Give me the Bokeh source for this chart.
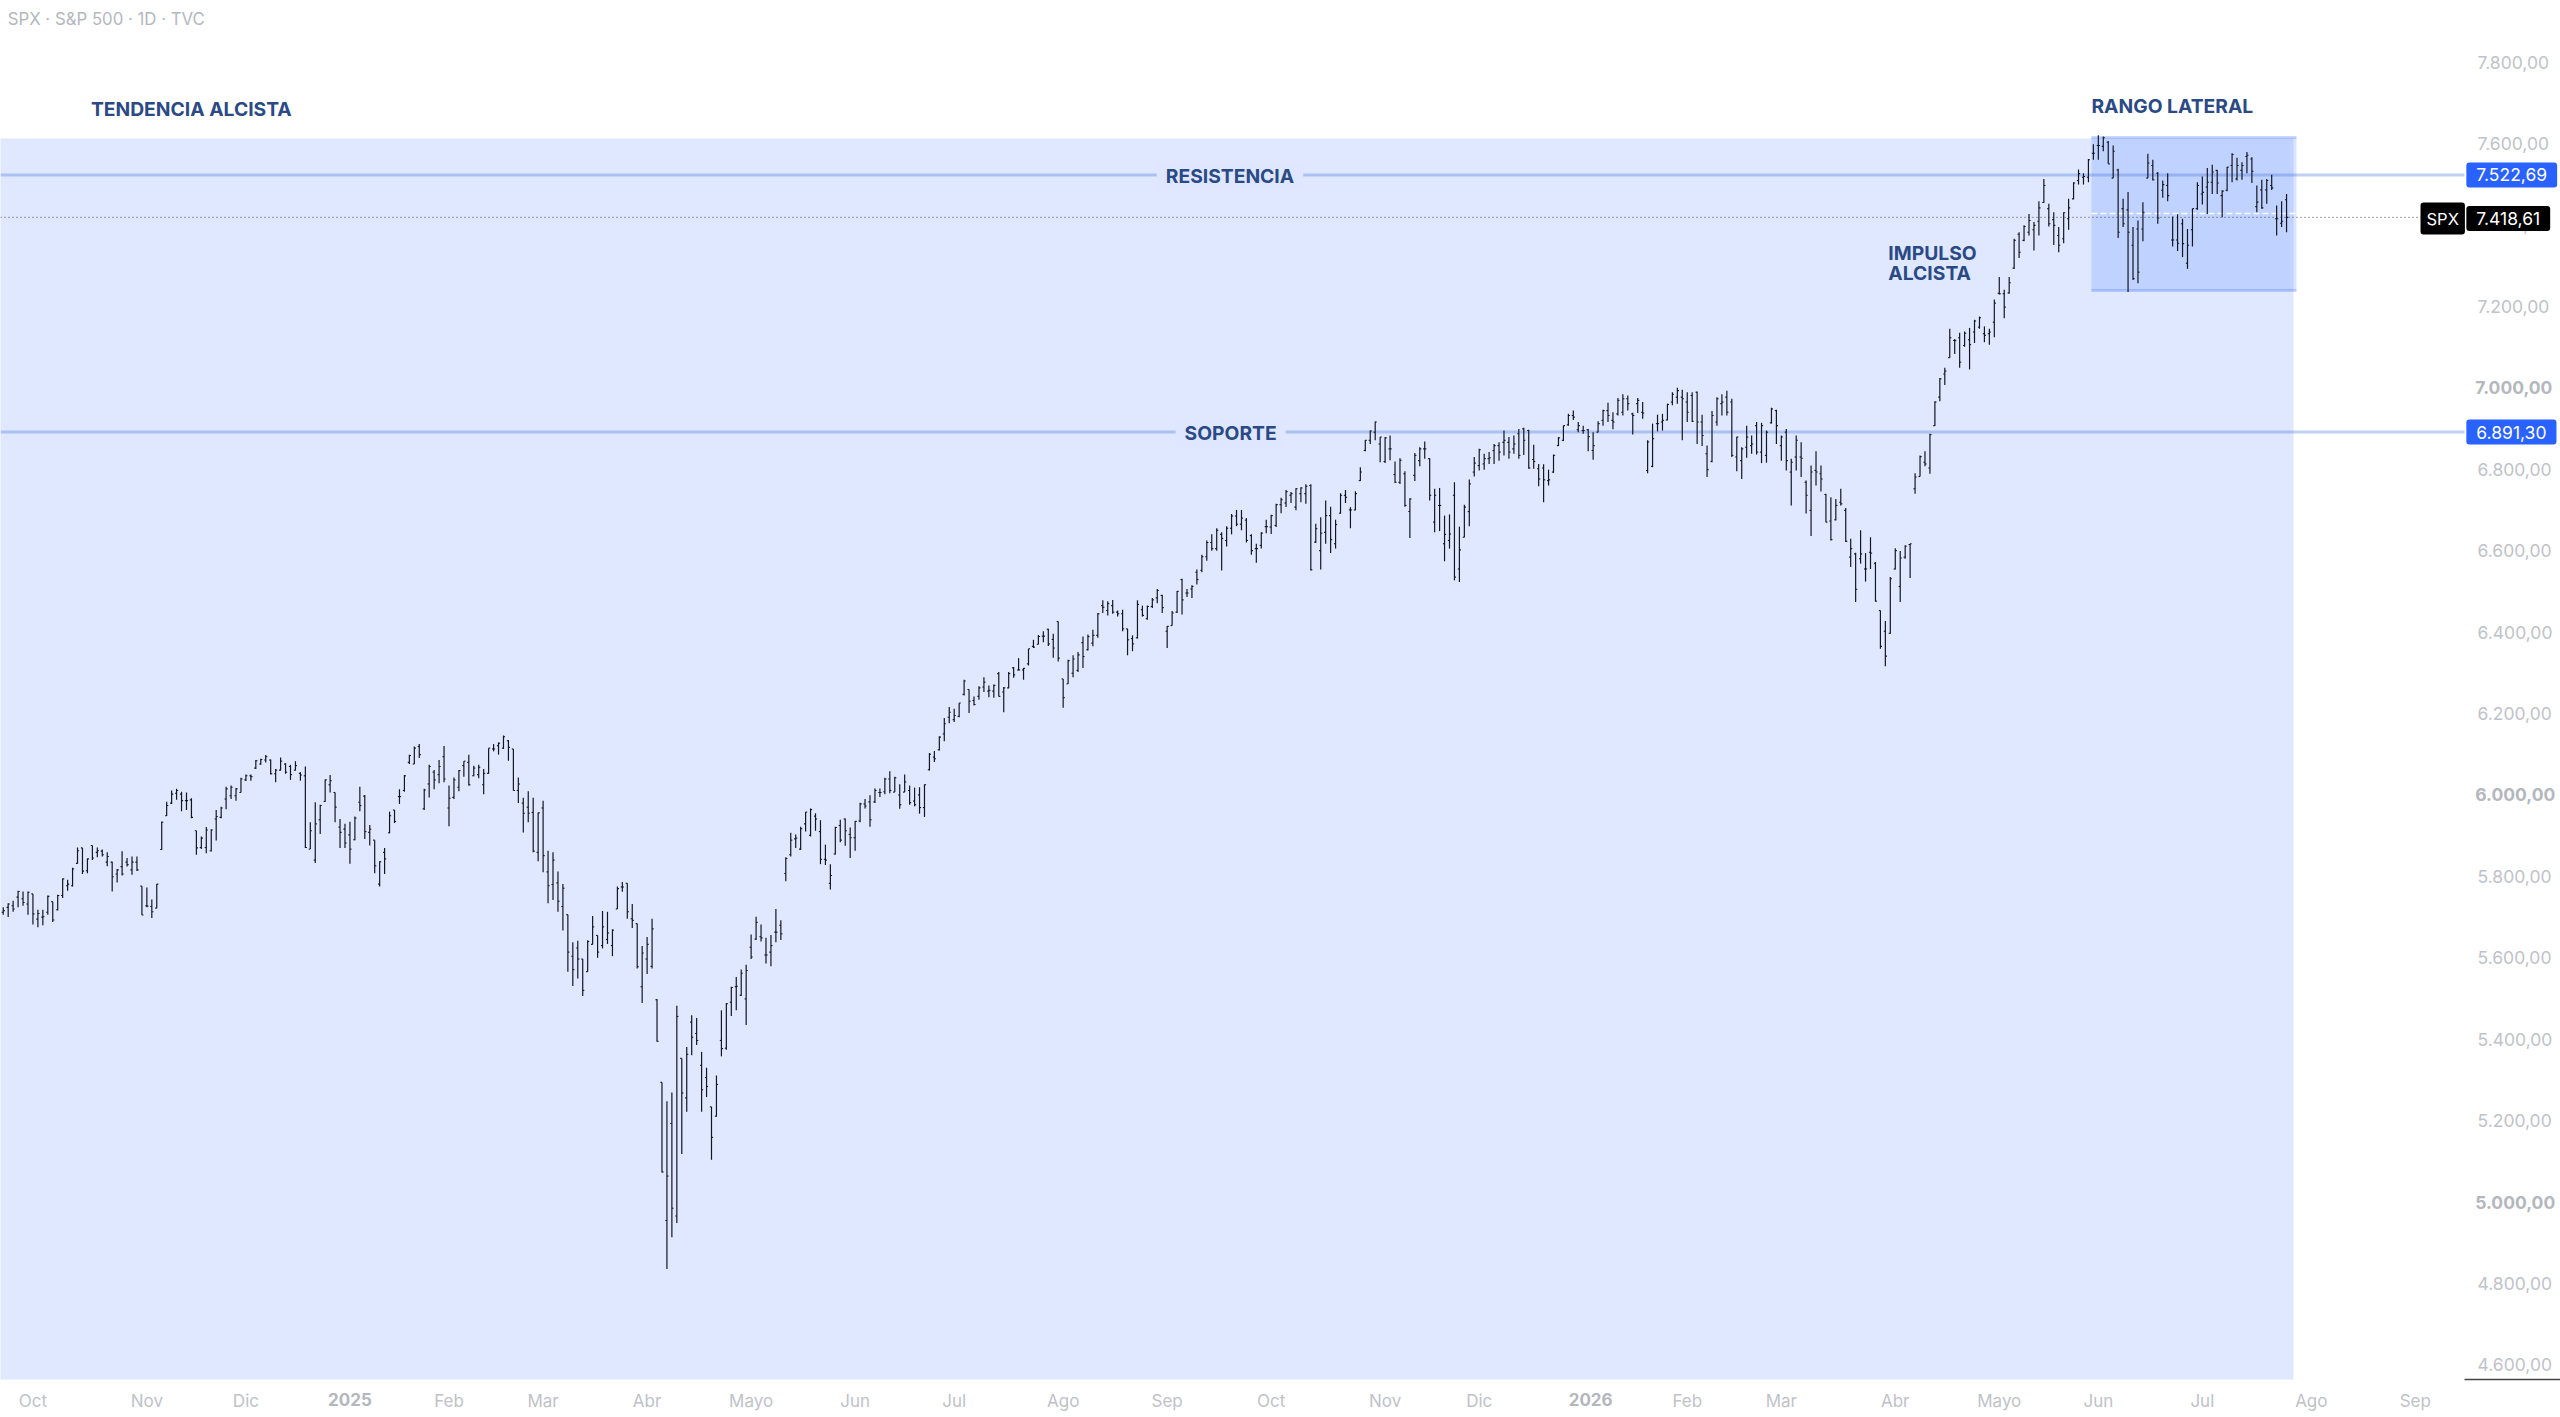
from bokeh.embed import file_html
from bokeh.models import ColumnDataSource, FixedTicker, Label, Range1d
from bokeh.plotting import figure
from bokeh.resources import INLINE

# daily S&P 500 bars
opens = [
    5712,5724,5728,5749,5745,5732,5757,5695,5700,5712,
    5738,5718,5753,5777,5777,5832,5870,5814,5876,5859,
    5862,5835,5835,5806,5824,5835,5816,5835,5776,5728,
    5726,5722,5866,5949,5980,6004,6002,5986,5988,5912,
    5871,5871,5863,5941,5945,5990,5998,5998,6006,6037,
    6047,6066,6076,6086,6086,6052,6061,6076,6070,6061,
    6053,6047,5867,5840,5939,5984,6025,6006,5921,5916,
    5902,5890,5982,5997,5908,5889,5781,5859,5907,5963,
    5996,6011,6080,6076,6119,5966,6027,6056,6050,6094,
    5968,5994,6019,6072,6080,6047,6050,6025,6053,6113,
    6121,6115,6133,6113,6011,5980,5970,5957,5859,5968,
    5811,5780,5784,5726,5706,5604,5624,5597,5566,5633,
    5655,5630,5645,5630,5720,5774,5783,5696,5684,5529,
    5597,5579,5497,5294,4955,5193,4966,5353,5256,5442,
    5414,5336,5306,5234,5211,5397,5378,5491,5529,5508,
    5499,5626,5646,5652,5607,5614,5663,5680,5807,5853,
    5892,5867,5929,5901,5948,5910,5842,5783,5855,5925,
    5941,5903,5895,5936,5978,5983,5983,6006,6008,6039,
    6007,6000,6007,6011,5985,6000,5969,6062,6093,6111,
    6150,6191,6185,6193,6247,6259,6232,6242,6265,6255,
    6255,6298,6253,6263,6312,6307,6307,6322,6365,6370,
    6390,6407,6382,6426,6285,6273,6299,6306,6374,6357,
    6373,6392,6465,6453,6465,6449,6445,6408,6384,6386,
    6455,6433,6463,6484,6490,6402,6416,6449,6529,6496,
    6506,6547,6552,6585,6620,6605,6640,6625,6655,6685,
    6665,6675,6637,6605,6613,6659,6658,6662,6713,6717,
    6736,6707,6740,6740,6760,6621,6600,6645,6686,6617,
    6692,6736,6700,6700,6772,6846,6871,6891,6862,6819,
    6850,6787,6768,6789,6696,6785,6821,6850,6826,6670,
    6711,6617,6625,6736,6555,6633,6696,6793,6809,6813,
    6826,6846,6858,6866,6866,6850,6887,6899,6895,6824,
    6801,6803,6772,6793,6858,6871,6909,6932,6897,6895,
    6897,6846,6891,6920,6944,6920,6936,6940,6973,6936,
    6961,6940,6797,6807,6912,6916,6921,6965,6977,6977,
    6965,6981,6989,6916,6838,6819,6916,6961,6977,6965,
    6830,6821,6854,6858,6907,6842,6834,6914,6944,6858,
    6891,6793,6830,6830,6768,6699,6797,6789,6738,6673,
    6676,6719,6699,6584,6592,6580,6555,6596,6569,6453,
    6402,6397,6555,6512,6584,6615,6752,6782,6817,6803,
    6907,6977,7034,7074,7116,7123,7104,7118,7137,7149,
    7133,7133,7161,7232,7231,7233,7294,7377,7362,7382,
    7388,7409,7455,7440,7413,7374,7366,7415,7464,7509,
    7517,7517,7576,7595,7593,7603,7515,7535,7440,7437,
    7350,7390,7390,7515,7546,7527,7485,7497,7363,7363,
    7403,7306,7388,7440,7476,7493,7505,7534,7472,7485,
    7546,7513,7534,7568,7562,7445,7486,7486,7497,7415,7404,7462,
]
highs = [
    5724,5734,5740,5765,5763,5763,5757,5718,5718,5753,
    5738,5755,5795,5792,5821,5871,5870,5844,5876,5871,
    5866,5859,5836,5818,5862,5845,5849,5849,5776,5773,
    5743,5781,5935,5983,6011,6015,6008,6006,5992,5912,
    5898,5921,5916,5963,5971,6020,6023,6017,6042,6050,
    6050,6086,6089,6098,6087,6064,6092,6078,6074,6083,
    6056,6070,5933,5982,5976,6038,6049,6006,5941,5929,
    5934,5947,6020,6000,5926,5889,5837,5870,5959,5963,
    6014,6049,6099,6119,6125,6015,6074,6061,6086,6120,
    6023,6043,6061,6083,6099,6072,6074,6064,6115,6125,
    6129,6146,6135,6113,6043,5993,6009,5993,5957,5986,
    5863,5859,5812,5781,5706,5638,5642,5597,5643,5703,
    5655,5715,5713,5670,5775,5786,5783,5732,5684,5629,
    5651,5696,5499,5294,5248,5269,5482,5353,5381,5459,
    5452,5369,5330,5234,5311,5471,5489,5529,5553,5571,
    5583,5657,5701,5682,5649,5656,5720,5692,5847,5907,
    5903,5922,5958,5967,5955,5938,5878,5830,5922,5939,
    5942,5920,5936,5981,5990,5999,6016,6016,6042,6058,
    6045,6026,6050,6023,6018,6019,6026,6103,6108,6144,
    6189,6216,6212,6226,6283,6259,6242,6267,6289,6269,
    6271,6302,6265,6302,6314,6336,6312,6359,6381,6393,
    6402,6408,6396,6426,6285,6332,6343,6351,6389,6394,
    6406,6447,6478,6476,6479,6453,6455,6408,6392,6478,
    6465,6465,6484,6506,6492,6415,6452,6501,6531,6506,
    6515,6554,6590,6625,6640,6655,6645,6660,6690,6700,
    6700,6680,6640,6617,6645,6676,6688,6715,6730,6749,
    6744,6753,6756,6763,6763,6666,6682,6723,6708,6676,
    6741,6749,6707,6746,6805,6872,6895,6917,6879,6879,
    6883,6819,6827,6795,6729,6840,6854,6868,6827,6752,
    6754,6686,6689,6768,6659,6713,6775,6830,6850,6838,
    6842,6862,6866,6895,6879,6883,6899,6902,6897,6860,
    6813,6812,6799,6836,6879,6907,6936,6944,6916,6907,
    6899,6891,6918,6946,6963,6940,6975,6984,6981,6939,
    6975,6965,6871,6912,6934,6936,6961,6989,7000,6995,
    6989,6989,6991,6934,6858,6943,6977,6984,6993,6973,
    6880,6854,6907,6883,6916,6914,6895,6951,6946,6883,
    6899,6826,6883,6866,6772,6809,6844,6809,6740,6731,
    6727,6752,6705,6629,6595,6650,6594,6633,6572,6453,
    6427,6535,6606,6599,6613,6617,6790,6834,6844,6887,
    6967,7024,7049,7145,7120,7135,7138,7147,7167,7175,
    7151,7145,7217,7272,7241,7272,7366,7382,7399,7427,
    7407,7458,7513,7452,7431,7395,7431,7464,7505,7536,
    7527,7562,7598,7620,7617,7606,7595,7538,7464,7481,
    7395,7411,7456,7575,7560,7530,7509,7527,7421,7426,
    7415,7390,7440,7505,7519,7540,7548,7535,7485,7542,
    7576,7565,7554,7579,7566,7497,7511,7513,7523,7448,7458,7476,
]
lows = [
    5706,5700,5713,5724,5728,5706,5682,5675,5680,5706,
    5688,5716,5747,5765,5775,5831,5806,5808,5840,5847,
    5849,5825,5763,5785,5802,5824,5804,5813,5705,5724,
    5698,5722,5865,5948,5978,5988,5960,5963,5943,5853,
    5867,5857,5861,5888,5943,5965,5990,5986,6006,6034,
    6035,6064,6074,6080,6050,6031,6060,6052,6037,6060,
    6035,5870,5867,5833,5904,5983,6006,5933,5870,5870,
    5831,5889,5960,5892,5876,5808,5775,5806,5906,5931,
    5978,6008,6076,6076,6091,5963,5994,6014,6029,6031,
    5923,5990,6009,6045,6023,6046,6041,6002,6052,6107,
    6099,6113,6084,6011,5980,5908,5933,5859,5837,5810,
    5734,5742,5713,5667,5566,5531,5549,5506,5566,5633,
    5600,5623,5634,5604,5720,5762,5696,5673,5574,5489,
    5560,5574,5394,5073,4836,4914,4949,5118,5222,5361,
    5386,5222,5258,5104,5210,5358,5374,5457,5471,5506,
    5435,5597,5644,5640,5586,5579,5638,5644,5788,5849,
    5870,5865,5910,5898,5912,5830,5828,5768,5854,5884,
    5875,5845,5863,5933,5967,5922,5980,5995,6002,6004,
    6007,5966,6007,5976,5972,5954,5946,6060,6081,6109,
    6132,6176,6179,6191,6244,6201,6220,6234,6253,6240,
    6239,6242,6203,6262,6288,6306,6283,6318,6361,6370,
    6375,6366,6337,6328,6214,6273,6289,6302,6312,6355,
    6365,6386,6447,6441,6445,6438,6402,6343,6353,6384,
    6438,6430,6459,6471,6447,6361,6416,6447,6443,6486,
    6484,6517,6547,6575,6600,6600,6551,6610,6640,6660,
    6650,6620,6590,6570,6605,6643,6641,6658,6692,6707,
    6717,6699,6719,6715,6551,6619,6554,6617,6594,6605,
    6691,6717,6655,6699,6771,6844,6862,6871,6817,6815,
    6822,6766,6764,6708,6631,6771,6807,6826,6723,6645,
    6648,6574,6605,6527,6523,6633,6660,6782,6797,6799,
    6813,6813,6821,6834,6826,6838,6826,6835,6801,6801,
    6758,6719,6760,6791,6857,6869,6907,6921,6891,6887,
    6844,6823,6891,6907,6916,6898,6932,6932,6944,6885,
    6938,6924,6790,6805,6893,6895,6920,6957,6961,6871,
    6916,6916,6862,6857,6781,6817,6907,6932,6932,6830,
    6795,6776,6828,6838,6836,6815,6816,6912,6862,6821,
    6797,6711,6797,6781,6691,6636,6760,6745,6670,6625,
    6674,6711,6621,6560,6474,6568,6524,6555,6475,6359,
    6316,6396,6554,6474,6580,6533,6740,6782,6807,6789,
    6906,6967,7007,7074,7083,7049,7101,7045,7110,7145,
    7112,7106,7124,7229,7171,7231,7292,7319,7360,7374,
    7337,7374,7454,7396,7351,7333,7355,7388,7463,7499,
    7499,7505,7560,7560,7581,7550,7515,7368,7395,7235,
    7265,7257,7360,7515,7509,7403,7467,7458,7347,7336,
    7321,7292,7347,7437,7450,7427,7476,7476,7419,7483,
    7505,7509,7511,7527,7503,7431,7440,7452,7486,7374,7395,7382,
]
closes = [
    5716,5732,5720,5763,5736,5761,5708,5709,5701,5751,
    5693,5753,5794,5781,5818,5863,5813,5843,5845,5863,
    5853,5849,5799,5816,5806,5829,5835,5816,5705,5727,
    5713,5781,5933,5974,6002,6011,5986,5986,5945,5870,
    5894,5914,5914,5947,5968,6015,6019,6015,6039,6047,
    6045,6084,6087,6094,6052,6061,6083,6056,6050,6072,
    6049,5871,5912,5929,5974,6037,6035,5970,5908,5882,
    5867,5943,5974,5910,5916,5826,5836,5843,5949,5935,
    5996,6047,6097,6115,6099,6012,6070,6037,6070,6039,
    5992,6037,6060,6083,6025,6066,6068,6053,6115,6113,
    6127,6143,6117,6011,6027,5955,5955,5862,5956,5851,
    5777,5840,5739,5771,5614,5571,5597,5520,5640,5676,
    5614,5676,5661,5668,5770,5774,5713,5692,5578,5612,
    5633,5671,5395,5074,5064,4985,5456,5268,5363,5405,
    5397,5276,5284,5159,5289,5377,5487,5527,5530,5562,
    5569,5602,5687,5649,5607,5630,5663,5659,5844,5889,
    5894,5917,5958,5964,5941,5842,5840,5802,5920,5889,
    5912,5895,5935,5978,5973,5939,6011,6006,6039,6011,
    6042,5976,6032,5981,5976,5969,6025,6100,6089,6142,
    6175,6203,6195,6226,6280,6230,6222,6263,6277,6257,
    6269,6242,6263,6298,6295,6307,6311,6359,6363,6389,
    6390,6371,6361,6336,6239,6330,6334,6344,6340,6389,
    6392,6445,6461,6470,6449,6445,6408,6381,6371,6468,
    6441,6463,6479,6502,6460,6414,6447,6500,6479,6496,
    6512,6529,6585,6620,6605,6650,6630,6655,6685,6665,
    6680,6625,6600,6605,6643,6659,6686,6713,6725,6745,
    6740,6752,6754,6758,6553,6654,6643,6686,6627,6664,
    6736,6731,6700,6740,6793,6871,6894,6916,6879,6877,
    6850,6768,6822,6711,6727,6834,6850,6850,6736,6736,
    6711,6640,6641,6535,6602,6707,6764,6815,6848,6826,
    6828,6858,6842,6871,6842,6862,6834,6871,6803,6819,
    6776,6774,6774,6834,6877,6907,6932,6928,6907,6895,
    6880,6858,6912,6944,6932,6916,6969,6973,6961,6932,
    6969,6938,6867,6875,6912,6920,6959,6984,6993,6973,
    6940,6918,6916,6883,6799,6932,6973,6965,6940,6834,
    6879,6850,6879,6862,6842,6907,6891,6948,6907,6879,
    6821,6817,6871,6827,6736,6793,6793,6776,6670,6627,
    6711,6715,6623,6605,6505,6592,6555,6594,6476,6365,
    6341,6531,6600,6582,6611,6617,6781,6831,6813,6885,
    6965,7022,7041,7123,7116,7063,7134,7106,7164,7172,
    7129,7137,7208,7231,7198,7258,7362,7333,7396,7411,
    7399,7442,7497,7403,7399,7350,7430,7442,7503,7526,
    7519,7560,7576,7595,7614,7550,7581,7382,7403,7382,
    7268,7284,7431,7552,7511,7417,7499,7472,7363,7355,
    7354,7350,7440,7497,7480,7505,7530,7503,7483,7542,
    7573,7546,7546,7571,7532,7456,7442,7509,7491,7415,7409,7418.61,
]

price_ticks = [7800, 7600, 7400, 7200, 6800, 6600, 6400, 6200, 5800, 5600, 5400, 5200, 4800, 4600]
price_labels = ["7.800,00", "7.600,00", "7.400,00", "7.200,00", "6.800,00", "6.600,00", "6.400,00",
                "6.200,00", "5.800,00", "5.600,00", "5.400,00", "5.200,00", "4.800,00", "4.600,00"]
bold_prices = [7000, 6000, 5000]
bold_price_labels = ["7.000,00", "6.000,00", "5.000,00"]

month_ticks = [6, 29, 49, 90, 109, 130, 151, 172, 192, 214, 235, 256, 279, 298, 340, 359, 382, 403, 423, 444, 466, 487]
month_labels = ["Oct", "Nov", "Dic", "Feb", "Mar", "Abr", "Mayo", "Jun", "Jul", "Ago", "Sep",
                "Oct", "Nov", "Dic", "Feb", "Mar", "Abr", "Mayo", "Jun", "Jul", "Ago", "Sep"]
year_ticks = [70, 320.5]
year_labels = ["2025", "2026"]

resistance = 7522.69
support = 6891.30
last_price = 7418.61
range_top, range_bottom = 7615, 7239
trend_top = 7612

GRAY = "#bfc2c8"
NAVY = "#2b4a85"
BLUE = "#2962ff"
FONT = "Inter"

n = len(opens)
bars = ColumnDataSource(dict(
    x=list(range(n)),
    x_open=[i - 0.32 for i in range(n)],
    x_close=[i + 0.32 for i in range(n)],
    open=opens, high=highs, low=lows, close=closes,
))

# the frame fills the page, the axes sit inside it at these two values
x0, x_axis, x_end = -0.55, 496.93, 516.31
y_axis, y_start, y_end = 4564.4, 4471, 7951.2
label_x = 499.1
tag_x = 497.3
p = figure(width=2560, height=1417, output_backend="svg", toolbar_location=None, tools="",
           x_range=Range1d(x0, x_end), y_range=Range1d(y_start, y_end), y_axis_location="right",
           min_border=0, background_fill_color="white", border_fill_color="white",
           outline_line_color=None)
p.grid.visible = False

p.yaxis.fixed_location = x_axis
p.xaxis.fixed_location = y_axis
p.yaxis.ticker = FixedTicker(ticks=price_ticks)
p.yaxis.major_label_overrides = dict(zip(price_ticks, price_labels))
p.xaxis.ticker = FixedTicker(ticks=month_ticks)
p.xaxis.major_label_overrides = dict(zip(month_ticks, month_labels))
for ax in (p.xaxis, p.yaxis):
    ax.axis_line_color = None
    ax.major_tick_line_color = None
    ax.minor_tick_line_color = None
    ax.major_label_text_color = GRAY
    ax.major_label_text_font = FONT
    ax.major_label_text_font_size = "17.5px"
p.yaxis.major_label_standoff = 7
p.xaxis.major_label_standoff = 6
p.xaxis.major_label_text_font_size = "17px"

# trend zone and lateral range
p.quad(left=[x0 - 1], right=[462.4], top=[trend_top], bottom=[y_axis], fill_color=BLUE, fill_alpha=0.15, line_color=None)
p.quad(left=[421.6], right=[463], top=[range_top], bottom=[range_bottom], fill_color=BLUE, fill_alpha=0.17, line_color=None)
p.segment(x0=[421.6, 421.6], x1=[463, 463], y0=[range_top, range_bottom], y1=[range_top, range_bottom],
          line_color=BLUE, line_alpha=0.25, line_width=3)
p.segment(x0=[421.6], x1=[463], y0=[7428], y1=[7428], line_color="white", line_width=1.5, line_dash="6 3", line_alpha=0.9)

p.segment(x0=[x0, x0], x1=[x_axis, x_axis], y0=[resistance, support], y1=[resistance, support],
          line_color="#3f6fd8", line_alpha=0.32, line_width=3)
p.segment(x0=[x0], x1=[x_axis], y0=[last_price], y1=[last_price], line_color="#444444", line_width=1, line_dash="1 3")
p.segment(x0=[x_axis], x1=[x_end], y0=[y_axis], y1=[y_axis], line_color="#444444", line_width=1.5)

# OHLC bars
bar_color = "#131722"
p.segment("x", "low", "x", "high", source=bars, line_color=bar_color, line_width=1.2)
p.segment("x_open", "open", "x", "open", source=bars, line_color=bar_color, line_width=1.1)
p.segment("x", "close", "x_close", "close", source=bars, line_color=bar_color, line_width=1.1)


def note(text, x, y, color=NAVY, size="19.3px", style="bold", **kw):
    p.add_layout(Label(x=x, y=y, text=text, text_color=color, text_font=FONT,
                       text_font_size=size, text_font_style=style, text_baseline="middle", **kw))


note("SPX · S&P 500 · 1D · TVC", 0.9, 7905, color="#b4b7bd", size="16.8px", style="normal")
note("TENDENCIA ALCISTA", 17.7, 7685)
note("RANGO LATERAL", 421.6, 7693)
note("IMPULSO", 380.6, 7330)
note("ALCISTA", 380.6, 7281)
zone = "#dee7ff"
note("RESISTENCIA", 232.9, resistance - 3, background_fill_color=zone, padding=(9, 2))
note("SOPORTE", 236.7, support - 3, background_fill_color=zone, padding=(9, 2))

for t, s in zip(bold_prices, bold_price_labels):
    note(s, label_x, t, color="#b4b7bd", size="17.5px")
for t, s in zip(year_ticks, year_labels):
    note(s, t, 4515, color="#b4b7bd", size="17px", text_align="center")

note("7.522,69", tag_x, resistance, color="white", size="17.5px", style="normal",
     background_fill_color=BLUE, padding=(10, 6), border_radius=3)
note("6.891,30", tag_x, support, color="white", size="17.5px", style="normal",
     background_fill_color=BLUE, padding=(10, 6), border_radius=3)
note("SPX", 488.05, last_price - 3, color="white", size="16.5px", style="normal",
     background_fill_color="black", padding=(6, 6), border_radius=3)
note("7.418,61", tag_x, last_price - 3, color="white", size="17.5px", style="normal",
     background_fill_color="black", padding=(10, 6), border_radius=3)

open("out.html", "w").write(file_html(p, INLINE))
